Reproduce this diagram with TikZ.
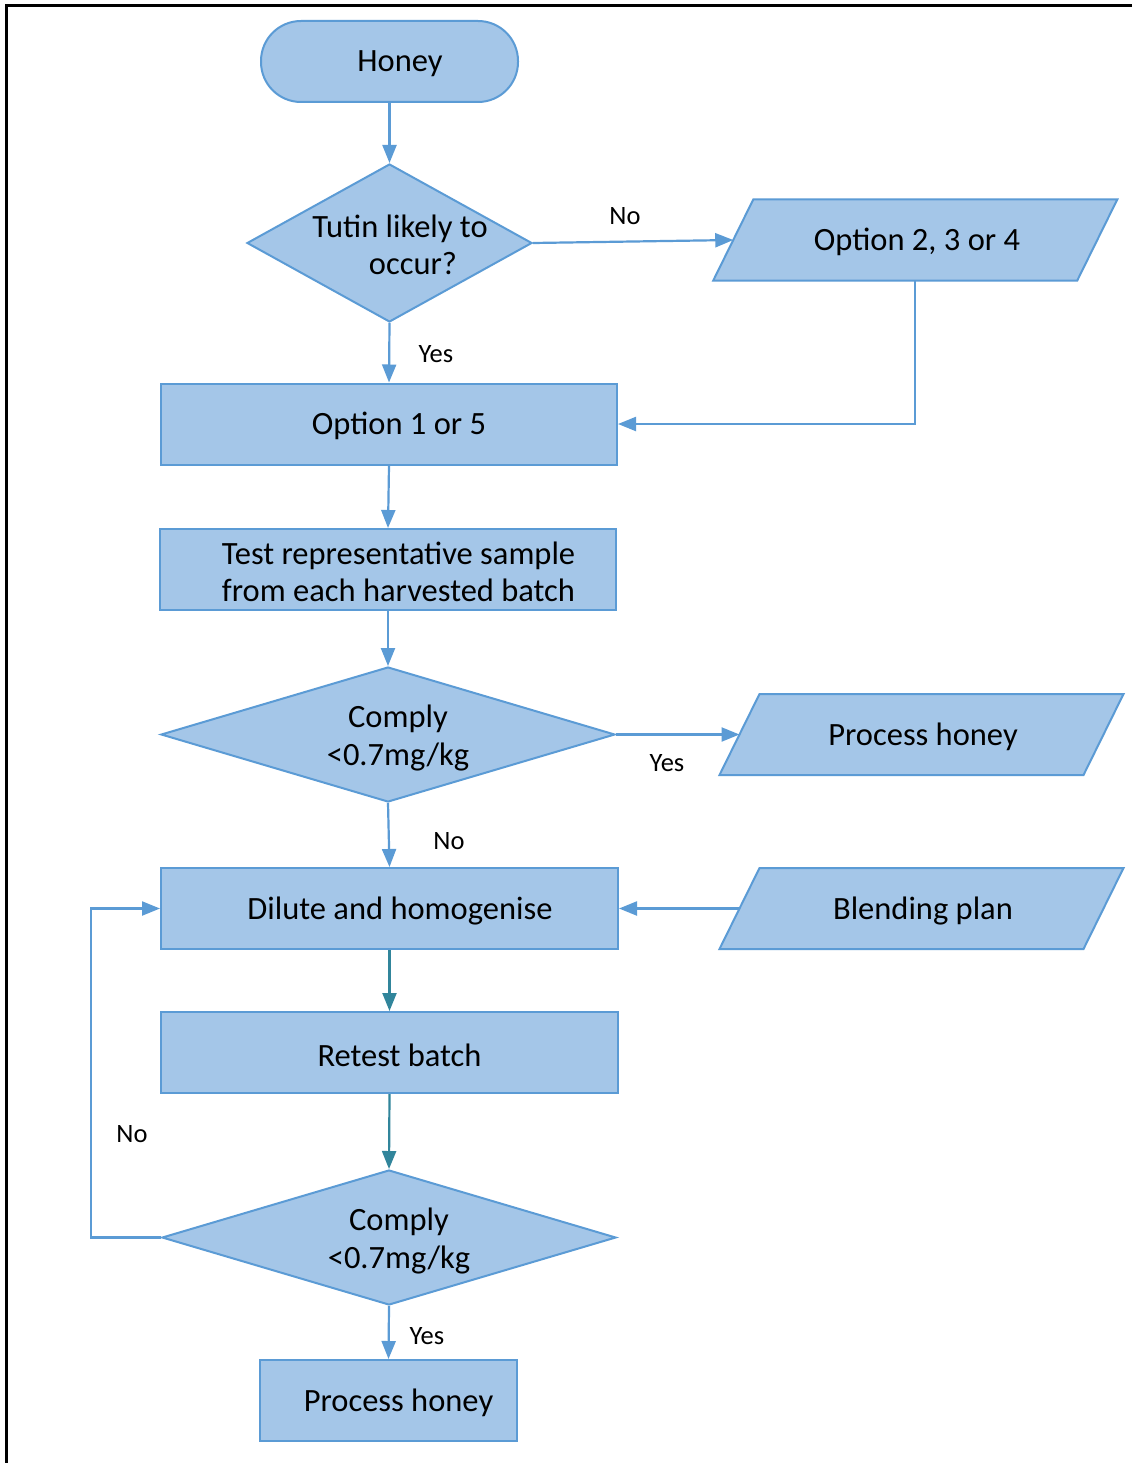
\documentclass[tikz,border=0pt]{standalone}
\usepackage{fontspec}
\setmainfont{Carlito}
\usetikzlibrary{shapes.geometric,arrows.meta}
\definecolor{boxfill}{RGB}{164,198,232}
\definecolor{boxline}{RGB}{91,155,213}
\definecolor{arrteal}{RGB}{49,133,155}
\newcommand{\paragram}[1]{\draw[base] ([xshift=20pt]#1.north west) -- ([xshift=20pt]#1.north east) -- ([xshift=-20pt]#1.south east) -- ([xshift=-20pt]#1.south west) -- cycle;}
\begin{document}
\begin{tikzpicture}[x=1pt,y=-1pt,
  base/.style={draw=boxline, fill=boxfill, line width=2pt, inner sep=0pt},
  boxr/.style={base, rectangle, minimum width=#1, minimum height=81pt},
  dia/.style={base, diamond, inner sep=0pt},
  pbox/.style={rectangle, minimum width=364pt, minimum height=81pt, inner sep=0pt, outer sep=0pt},
  txt/.style={font=\fontsize{32.5}{37.5}\selectfont, align=center, inner sep=0pt},
  lab/.style={font=\fontsize{26.5}{30}\selectfont, inner sep=0pt},
  arr/.style={draw=boxline, line width=2.2pt, -{Triangle[length=18pt,width=14pt]}},
  tarr/.style={draw=arrteal, line width=2.2pt, -{Triangle[length=18pt,width=14pt]}}
]
\useasboundingbox (0,0) rectangle (1132,1463);
\fill[white] (0,0) rectangle (1132,1463);
\draw[line width=3pt] (1132,5.5) -- (6.5,5.5) -- (6.5,1463);

% nodes
\node[base, rounded corners=40pt, minimum width=257pt, minimum height=81pt] (honey) at (389.5,61.5) {};
\node[txt] (honeyt) at (400,64) {Honey};

\node[dia, minimum width=285pt, minimum height=158pt] (d1) at (389.5,243) {};
\node[txt] (d1t) at (400,245) {Tutin likely to\\\hspace*{26pt}occur?};

\node[pbox] (opt) at (915.25,240) {};
\paragram{opt}
\node[txt] (optt) at (917,242) {Option 2, 3 or 4};

\node[boxr=456pt] (op15) at (389,424) {};
\node[txt] (op15t) at (399,426) {Option 1 or 5};

\node[boxr=456pt] (test) at (388,569.5) {};
\node[txt] (testt) at (398.5,572) {Test representative sample\\from each harvested batch};

\node[dia, minimum width=454pt, minimum height=135pt] (d2) at (388,734.5) {};
\node[txt] (d2t) at (398,738) {Comply\\<0.7mg/kg};

\node[pbox] (proc1) at (921.5,734.5) {};
\paragram{proc1}
\node[txt] (proc1t) at (923,737) {Process honey};

\node[boxr=457pt] (dil) at (389.5,908.5) {};
\node[txt] (dilt) at (400,911) {Dilute and homogenise};

\node[pbox] (blend) at (921.5,908.5) {};
\paragram{blend}
\node[txt] (blendt) at (923,911) {Blending plan};

\node[boxr=457pt] (ret) at (389.5,1052.5) {};
\node[txt] (rett) at (399.5,1055) {Retest batch};

\node[dia, minimum width=454pt, minimum height=135pt] (d3) at (389,1237.5) {};
\node[txt] (d3t) at (399,1241) {Comply\\<0.7mg/kg};

\node[boxr=257pt] (proc2) at (388.5,1400.5) {};
\node[txt] (proc2t) at (398.5,1403) {Process honey};

\coordinate (lp) at (91,1237.5);

% connectors
\draw[arr] (honey.south) -- (d1.north);
\draw[arr] (d1.east) -- (opt.west);
\draw[arr] (d1.south) -- (op15.north);
\draw[arr] (opt.south) |- (op15.east);
\draw[arr] (op15.south) -- (test.north);
\draw[arr] (test.south) -- (d2.north);
\draw[arr] (d2.east) -- (proc1.west);
\draw[arr] (d2.south) -- (dil.north);
\draw[arr] (blend.west) -- (dil.east);
\draw[tarr] (dil.south) -- (ret.north);
\draw[tarr] (ret.south) -- (d3.north);
\draw[arr] (d3.west) -- (lp) |- (dil.west);
\draw[arr] (d3.south) -- (proc2.north);

% labels
\node[lab] (lno1) at (625,216) {No};
\node[lab] (lyes1) at (436,354) {Yes};
\node[lab] (lyes2) at (667,763) {Yes};
\node[lab] (lno2) at (449,841) {No};
\node[lab] (lno3) at (132,1134) {No};
\node[lab] (lyes3) at (427,1336) {Yes};
\end{tikzpicture}
\end{document}
